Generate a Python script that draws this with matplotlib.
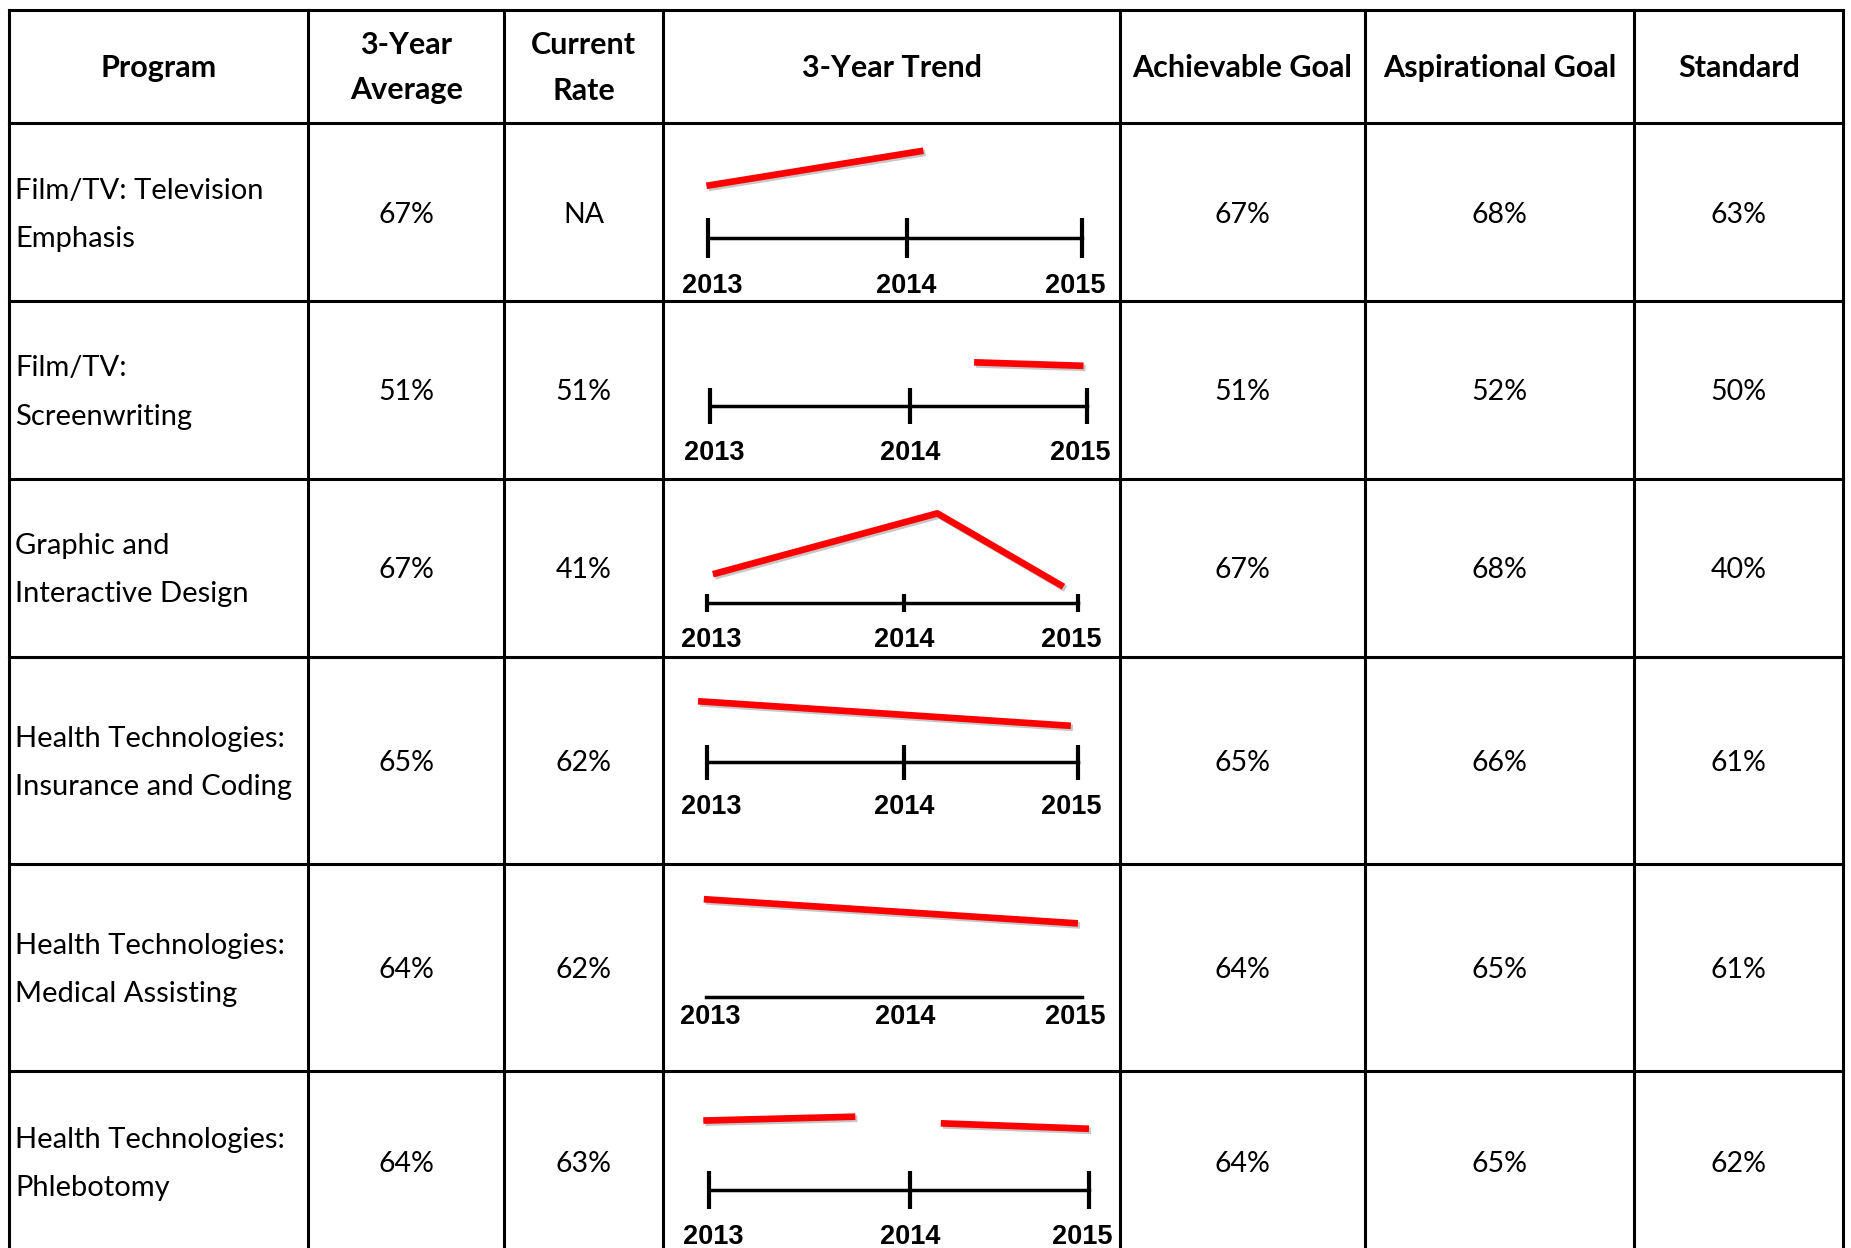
import numpy as np
import matplotlib
matplotlib.use('Agg')
import matplotlib.pyplot as plt
import matplotlib.patheffects as pe
import matplotlib.transforms as mtransforms

# Datos de la tabla
headers = ['Program', '3-Year\nAverage', 'Current\nRate', '3-Year Trend',
           'Achievable Goal', 'Aspirational Goal', 'Standard']
programs = ['Film/TV: Television\nEmphasis',
            'Film/TV:\nScreenwriting',
            'Graphic and\nInteractive Design',
            'Health Technologies:\nInsurance and Coding',
            'Health Technologies:\nMedical Assisting',
            'Health Technologies:\nPhlebotomy']
avg_3yr = [67, 51, 67, 65, 64, 64]
current_rate = [None, 51, 41, 62, 62, 63]
achievable = [67, 51, 67, 65, 64, 64]
aspirational = [68, 52, 68, 66, 65, 65]
standard = [63, 50, 40, 61, 61, 62]

# Minigráficos (tendencia de 3 años)
years = [2013, 2014, 2015]
trend_x = [[2012.99, 2014.15],
           [2014.40, 2014.98],
           [2013.03, 2014.24, 2014.92],
           [2012.95, 2014.96],
           [2012.99, 2014.98],
           [2012.97, 2013.77, np.nan, 2014.22, 2015.00]]
trend_y = [[62.5, 71.5],
           [51.9, 51.0],
           [44.2, 59.8, 41.0],
           [68.3, 62.0],
           [68.2, 62.0],
           [65.1, 66.1, np.nan, 64.4, 63.0]]

# Maquetación (píxeles de la figura)
W, H = 1851, 1248
col_edges = [9.3, 308.3, 504.3, 663.3, 1120, 1365, 1634.3, 1843.3]
row_edges = [9.7, 123.3, 301, 479, 656.7, 864.3, 1071, 1252]
spark_left = [708.3, 710, 707.3, 707.3, 705.7, 709]
spark_right = [1082.3, 1087.3, 1078.3, 1078.3, 1081.7, 1089]
spark_axis_y = [237.7, 406, 602.7, 761.7, 996.7, 1190]
spark_floor = [49.2, 40.7, 36.9, 52.8, 43.2, 47.3]
tick_len = [28.8, 26.6, 13, 25.2, 0, 27.4]
label_pad = [11.2, 11, 11, 10.9, 5, 10.5]
label_shift = [3, 0, -5]   # desplazamiento horizontal de las etiquetas (pt)
mid_tick = 2014.06
px_per_pct = 3.9
spark_h = 120

body_font = 'Lato'
year_font = 'Liberation Sans'

fig = plt.figure(figsize=(W / 100, H / 100), dpi=100)
ax = fig.add_axes([0, 0, 1, 1])
ax.set_xlim(0, W)
ax.set_ylim(H, 0)
ax.axis('off')

# Rejilla de la tabla
for y in row_edges:
    ax.plot([col_edges[0], col_edges[-1]], [y, y], color='black', lw=2.2,
            solid_capstyle='projecting')
for x in col_edges:
    ax.plot([x, x], [row_edges[0], row_edges[-1]], color='black', lw=2.2,
            solid_capstyle='projecting')


def multiline(x, yc, text, gap, **kw):
    lines = text.split('\n')
    n = len(lines)
    for i, line in enumerate(lines):
        ax.text(x, yc + (i - (n - 1) / 2) * gap, line, va='center', **kw)


# Cabecera
hy = (row_edges[0] + row_edges[1]) / 2 + 1.5
for j, h in enumerate(headers):
    xc = (col_edges[j] + col_edges[j + 1]) / 2
    multiline(xc, hy, h, 45, ha='center', fontsize=22, fontweight='bold',
              family=body_font)

# Filas
for i in range(len(programs)):
    yc = (row_edges[i + 1] + row_edges[i + 2]) / 2 + 2.5
    multiline(15, yc, programs[i], 48, ha='left', fontsize=21, family=body_font)
    cols = {1: avg_3yr[i], 2: current_rate[i], 4: achievable[i],
            5: aspirational[i], 6: standard[i]}
    for j, v in cols.items():
        xc = (col_edges[j] + col_edges[j + 1]) / 2
        txt = 'NA' if v is None else f'{v}%'
        ax.text(xc, yc, txt, ha='center', va='center', fontsize=20.5,
                family=body_font)

    # Minigráfico
    left = spark_left[i] / W
    bottom = 1 - spark_axis_y[i] / H
    sax = fig.add_axes([left, bottom, (spark_right[i] - spark_left[i]) / W, spark_h / H])
    sax.patch.set_alpha(0)
    sax.set_xlim(2013, 2015)
    sax.set_ylim(spark_floor[i], spark_floor[i] + spark_h / px_per_pct)
    line, = sax.plot(trend_x[i], trend_y[i], color='#ff0000', lw=4.8,
                     solid_capstyle='butt', clip_on=False)
    line.set_path_effects([pe.SimpleLineShadow(offset=(1.5, -1.5), shadow_color='black',
                                               alpha=0.22), pe.Normal()])
    for s in ['top', 'right', 'left']:
        sax.spines[s].set_visible(False)
    sax.spines['bottom'].set_linewidth(2.5)
    sax.set_yticks([])
    sax.set_xticks([years[0], mid_tick, years[2]], labels=[str(y) for y in years])
    sax.tick_params(axis='x', direction='inout', length=tick_len[i], width=3,
                    pad=label_pad[i], labelsize=19.5)
    for k, lab in enumerate(sax.get_xticklabels()):
        lab.set_fontfamily(year_font)
        lab.set_fontweight('bold')
        off = mtransforms.ScaledTranslation(label_shift[k] / 72, 0, fig.dpi_scale_trans)
        lab.set_transform(lab.get_transform() + off)

fig.savefig('out.png', dpi=100)
